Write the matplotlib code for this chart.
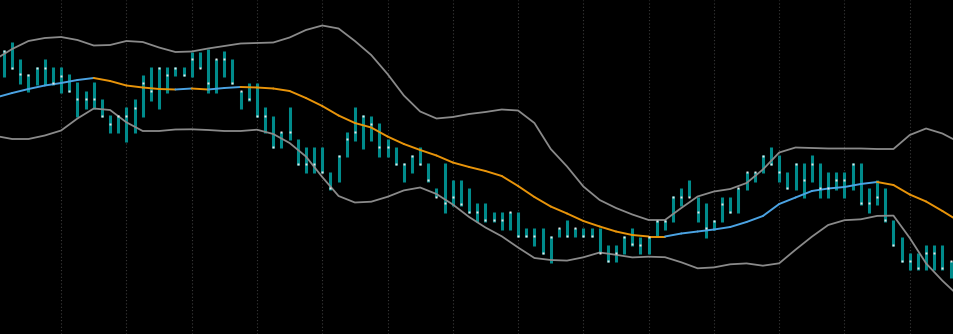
import numpy as np
import matplotlib
matplotlib.use("Agg")
import matplotlib.pyplot as plt
from matplotlib.collections import LineCollection

# OHLC bars (only high / low / close are drawn)
high = [284, 292, 275, 260, 267, 275, 267, 267, 260, 252,
        243, 252, 235, 219, 219, 227, 235, 259, 267, 267,
        267, 267, 267, 282, 282, 285, 275, 283, 275, 243,
        251, 251, 227, 218, 202, 227, 195, 187, 187, 187,
        162, 179, 202, 227, 219, 218, 211, 195, 187, 171,
        179, 187, 171, 146, 171, 154, 154, 146, 131, 131,
        122, 122, 122, 122, 106, 106, 106, 98, 106, 114,
        106, 106, 106, 106, 89, 89, 98, 106, 97, 97,
        114, 114, 138, 146, 154, 137, 131, 114, 137, 137,
        146, 162, 162, 179, 187, 179, 162, 171, 171, 179,
        171, 162, 162, 162, 171, 171, 146, 154, 146, 114,
        97, 81, 81, 89, 89, 89, 73]
low = [257, 265, 250, 242, 249, 249, 249, 241, 242, 217,
       225, 225, 217, 201, 201, 192, 201, 217, 233, 225,
       241, 258, 258, 257, 266, 241, 241, 257, 250, 225,
       233, 217, 201, 186, 186, 194, 169, 161, 161, 161,
       144, 152, 177, 193, 185, 193, 177, 177, 169, 152,
       161, 169, 152, 137, 121, 128, 128, 121, 112, 112,
       112, 104, 104, 97, 97, 88, 80, 71, 97, 97,
       97, 97, 97, 81, 72, 72, 80, 88, 80, 80,
       97, 104, 112, 128, 137, 112, 96, 104, 112, 121,
       121, 144, 152, 161, 169, 152, 145, 144, 136, 152,
       136, 136, 144, 136, 144, 129, 121, 129, 112, 88,
       72, 64, 64, 64, 64, 64, 56]
close = [283, 266, 260, 259, 266, 266, 251, 258, 243, 235,
         235, 235, 218, 210, 218, 218, 226, 251, 243, 266,
         259, 266, 259, 275, 266, 251, 275, 275, 251, 243,
         235, 218, 218, 187, 202, 202, 170, 170, 170, 162,
         146, 178, 195, 202, 218, 210, 187, 187, 170, 170,
         178, 170, 154, 137, 131, 137, 130, 122, 122, 114,
         114, 114, 122, 98, 98, 98, 81, 97, 106, 98,
         106, 98, 98, 81, 73, 81, 97, 90, 89, 97,
         113, 113, 137, 137, 137, 122, 106, 113, 130, 122,
         146, 162, 162, 178, 170, 162, 146, 170, 154, 170,
         146, 146, 154, 154, 170, 131, 131, 137, 114, 89,
         73, 73, 66, 81, 81, 66, 73]

# bollinger bands, read every second bar
band_pos = list(range(-1, 118, 2))
upper = [275, 285, 293, 296, 297, 294, 288.5, 289, 293, 292,
         286.5, 282, 282.5, 285.5, 288, 290.5, 291, 291.5, 296.5, 304,
         308.5, 305.5, 293, 279, 260, 238.5, 222.5, 215.5, 217, 220,
         222, 224.5, 223.5, 211, 185, 167.5, 147.5, 134, 126, 119.5,
         114, 114, 126, 137.5, 142.5, 145, 151, 164.5, 181.5, 186.5,
         186, 185.5, 185.5, 185.5, 185, 185, 199, 205.5, 200.5, 192]
middle = [236.5, 241, 245, 248.5, 251, 254, 256, 253, 248.5, 246.5,
          245, 244.5, 245.5, 244.5, 246, 247, 246.5, 245.5, 243, 236,
          228, 218.5, 211, 206.5, 197.5, 190, 184, 178.5, 171.5, 167,
          163, 158, 148, 137, 127.5, 120.5, 113, 107.5, 102.5, 99,
          97.5, 97.5, 100.5, 102.5, 104.5, 107, 112, 118, 130, 136.5,
          143, 145.5, 147, 150, 152, 149, 139.5, 132.5, 123, 113]
lower = [198, 195, 195, 198.5, 203.5, 215.5, 225.5, 224, 211.7, 203,
         203, 204.5, 204.7, 204, 203, 203, 204.3, 200, 191, 177.5,
         157, 138, 131.5, 132.3, 137.2, 143.6, 146.5, 140, 129.5, 117,
         106.5, 97.7, 86.5, 76, 74, 73.4, 76.7, 81.5, 79.2, 76.6,
         77.3, 76.8, 71.7, 65.7, 66.6, 69.7, 70.6, 68.3, 70.7, 84.3,
         97.3, 109, 113.8, 114.7, 118.1, 118.4, 96, 70.6, 53.3, 38]

grid_bars = list(range(7, 117, 8))

fig = plt.figure(figsize=(9.54, 3.34), dpi=100, facecolor='black')
ax = fig.add_axes([0, 0, 1, 1])
ax.set_facecolor('black')

idx = np.arange(len(close))

for g in grid_bars:
    ax.axvline(g, color='#3a3a3a', lw=0.8, ls=(0, (1, 2)), zorder=0)

ax.vlines(idx, low, high, color='#008b8b', lw=2.2, zorder=2)

ax.plot(band_pos, upper, color='#8a8a8a', lw=1.3, zorder=3)
ax.plot(band_pos, lower, color='#8a8a8a', lw=1.3, zorder=3)

# middle line: blue when rising, orange when falling
pts = np.column_stack([band_pos, middle])
segs = np.stack([pts[:-1], pts[1:]], axis=1)
cols = ['#4ba3e3' if b > a else '#e8940a' for a, b in zip(middle[:-1], middle[1:])]
ax.add_collection(LineCollection(segs, colors=cols, linewidths=1.4,
                                 capstyle='round', zorder=3))

ax.plot(idx, close, ls='none', marker='s', ms=1.6, mfc='#e6e6e6',
        mec='none', zorder=4)

ax.set_xlim(-0.49, 116.42)
ax.set_ylim(0, 334)
ax.axis('off')

fig.savefig('out.png', dpi=100, facecolor='black')
